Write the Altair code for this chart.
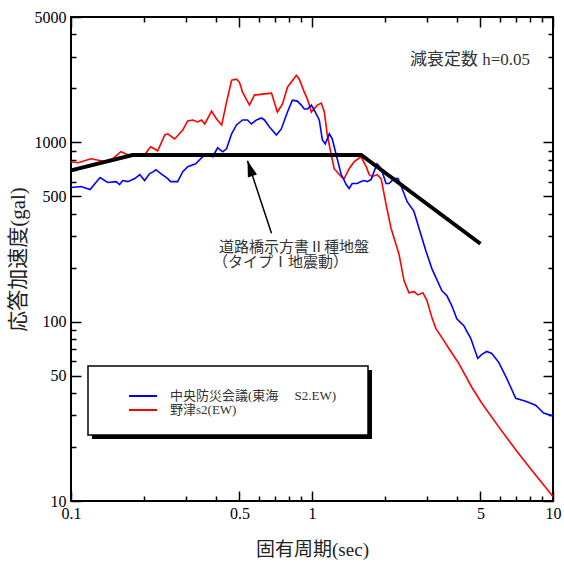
import altair as alt
import pandas as pd

# ---------------- data ----------------
red_period = [0.100, 0.107, 0.121, 0.133, 0.146, 0.161, 0.172, 0.184, 0.202, 0.214,
              0.229, 0.245, 0.252, 0.269, 0.291, 0.305, 0.320, 0.335, 0.348, 0.359,
              0.383, 0.402, 0.422, 0.442, 0.464, 0.486, 0.500, 0.515, 0.550, 0.577,
              0.623, 0.679, 0.718, 0.754, 0.791, 0.861, 0.886, 0.929, 0.957, 0.994,
              1.052, 1.093, 1.125, 1.157, 1.202, 1.236, 1.322, 1.360, 1.426, 1.496,
              1.599, 1.679, 1.726, 1.777, 1.862, 1.936, 2.029, 2.128, 2.296, 2.410,
              2.526, 2.649, 2.753, 2.886, 3.000, 3.147, 3.266, 3.461, 3.698, 4.064,
              4.603, 5.067, 5.956, 7.003, 8.147, 10.0]
red_acc = [780, 770, 810, 790, 790, 886, 853, 853, 853, 944,
           897, 1100, 1115, 1045, 1173, 1316, 1333, 1299, 1333, 1266,
           1495, 1350, 1250, 1677, 2220, 2249, 2163, 1905, 1613, 1834,
           1858, 1882, 1476, 1634, 2030, 2366, 2249, 1905, 1742, 1476,
           1613, 1656, 1476, 1100, 853, 713, 644, 628, 713, 780,
           831, 732, 661, 644, 661, 628, 451, 332, 238, 169,
           145, 147, 141, 145, 131, 105, 91.5, 81.5, 70.9, 58.5,
           43.1, 35.1, 25.9, 19.3, 14.9, 10.6]

blue_period = [0.100, 0.110, 0.120, 0.132, 0.142, 0.154, 0.159, 0.164, 0.172, 0.184,
               0.193, 0.202, 0.212, 0.220, 0.225, 0.236, 0.252, 0.259, 0.277, 0.291,
               0.305, 0.329, 0.352, 0.369, 0.387, 0.406, 0.426, 0.442, 0.464, 0.486,
               0.515, 0.540, 0.561, 0.588, 0.617, 0.635, 0.666, 0.712, 0.746, 0.791,
               0.829, 0.869, 0.903, 0.929, 0.957, 0.994, 1.022, 1.072, 1.104, 1.135,
               1.180, 1.213, 1.260, 1.322, 1.387, 1.426, 1.468, 1.539, 1.599, 1.644,
               1.694, 1.758, 1.862, 1.936, 2.029, 2.088, 2.190, 2.275, 2.365, 2.479,
               2.649, 2.780, 2.972, 3.147, 3.461, 3.630, 3.805, 3.990, 4.266, 4.560,
               4.873, 5.067, 5.309, 5.571, 5.956, 6.427, 7.003, 7.703, 8.472, 9.141,
               10.0]
blue_acc = [560, 567, 546, 636, 597, 604, 582, 612, 604, 628,
            661, 612, 669, 686, 704, 669, 628, 604, 604, 686,
            732, 760, 831, 853, 831, 932, 886, 920, 1115, 1250,
            1333, 1333, 1266, 1333, 1367, 1333, 1218, 1100, 1188, 1476,
            1720, 1698, 1613, 1533, 1533, 1613, 1514, 1333, 1032, 981,
            1115, 1045, 853, 661, 582, 553, 589, 589, 604, 612,
            604, 620, 760, 713, 589, 589, 628, 628, 553, 468,
            412, 332, 247, 197, 148.5, 139.4, 122.6, 103.9, 95.0, 80.5,
            62.4, 65.7, 68.2, 66.5, 59.3, 48.3, 37.4, 36.0, 34.2, 30.9,
            29.8]

design_period = [0.1, 0.18, 1.6, 5.0]
design_acc = [698, 850, 850, 272]

arrow_period = [0.679]
arrow_acc = [311]
arrow_tip_period = [0.54]
arrow_tip_acc = [790]

x_major = [0.1, 0.5, 1, 5, 10]
x_minor = [0.2, 0.3, 0.4, 0.6, 0.7, 0.8, 0.9, 2, 3, 4, 6, 7, 8, 9]
y_major = [10, 50, 100, 500, 1000, 5000]
y_minor = [20, 30, 40, 60, 70, 80, 90, 200, 300, 400, 600, 700, 800, 900,
           2000, 3000, 4000]

legend_labels = ["中央防災会議(東海　 S2.EW)", "野津s2(EW)"]
series_colors = ["#0000FF", "#FF0000"]
annotation_lines = ["道路橋示方書Ⅱ種地盤", "（タイプⅠ地震動）"]
damping_text = "減衰定数 h=0.05"
x_title = "固有周期(sec)"
y_title = "応答加速度(gal)"

# ---------------- chart ----------------
W, H = 482, 484
FONT = "Liberation Serif, Noto Sans CJK JP"
xs = alt.Scale(type="log", domain=[0.1, 10], nice=False)
ys = alt.Scale(type="log", domain=[10, 5000], nice=False)

red_df = pd.DataFrame({"T": red_period, "A": red_acc})
blue_df = pd.DataFrame({"T": blue_period, "A": blue_acc})
design_df = pd.DataFrame({"T": design_period, "A": design_acc})
arrow_df = pd.DataFrame({"T": arrow_period, "A": arrow_acc,
                         "T2": arrow_tip_period, "A2": arrow_tip_acc})
tip_df = pd.DataFrame({"T": arrow_tip_period, "A": arrow_tip_acc})
one = pd.DataFrame({"k": [0]})


def axis(orient, values, size, labels=False, **kw):
    return alt.Axis(orient=orient, values=values, tickSize=size, offset=-size,
                    domain=False, grid=False, labels=labels, tickColor="black",
                    tickWidth=1.5, **kw)


ax_bottom_major = axis("bottom", x_major, 10, labels=True, format="~g",
                       labelFont=FONT, labelFontSize=16, labelColor="black",
                       labelPadding=4, labelFlush=False, labelOverlap=False,
                       titleFont=FONT, titleFontSize=19, titleFontWeight="normal",
                       titleColor="#222222", titleX=W / 2, titleY=58,
                       titleBaseline="middle", titleAlign="center")
ax_left_major = axis("left", y_major, 10, labels=True, format="~g",
                     labelFont=FONT, labelFontSize=16, labelColor="black",
                     labelPadding=5, labelOverlap=False,
                     titleFont=FONT, titleFontSize=21, titleFontWeight="normal",
                     titleColor="#222222", titleX=-63, titleY=H / 2,
                     titleAngle=270, titleBaseline="middle", titleAlign="center")
ax_bottom_minor = axis("bottom", x_minor, 5)
ax_left_minor = axis("left", y_minor, 5)
ax_top_major = axis("top", x_major, 10)
ax_right_major = axis("right", y_major, 10)
ax_top_minor = axis("top", x_minor, 5)
ax_right_minor = axis("right", y_minor, 5)

red_line = alt.Chart(red_df).mark_line(color=series_colors[1], strokeWidth=1.6, clip=True).encode(
    x=alt.X("T:Q", scale=xs, axis=ax_bottom_major, title=x_title),
    y=alt.Y("A:Q", scale=ys, axis=ax_left_major, title=y_title),
)
blue_line = alt.Chart(blue_df).mark_line(color=series_colors[0], strokeWidth=1.6, clip=True).encode(
    x=alt.X("T:Q", scale=xs, axis=ax_bottom_minor, title=None),
    y=alt.Y("A:Q", scale=ys, axis=ax_left_minor, title=None),
)
design_line = alt.Chart(design_df).mark_line(color="black", strokeWidth=4).encode(
    x=alt.X("T:Q", scale=xs, axis=ax_top_major, title=None),
    y=alt.Y("A:Q", scale=ys, axis=ax_right_major, title=None),
)
arrow_line = alt.Chart(arrow_df).mark_rule(color="black", strokeWidth=1.5).encode(
    x=alt.X("T:Q", scale=xs, axis=ax_top_minor, title=None),
    y=alt.Y("A:Q", scale=ys, axis=ax_right_minor, title=None),
    x2="T2:Q",
    y2="A2:Q",
)
arrow_head = alt.Chart(tip_df).mark_point(
    shape="M0,0L0.6,2L-0.6,2Z", filled=True, size=256, angle=342,
    color="black", opacity=1, strokeWidth=0
).encode(
    x=alt.X("T:Q", scale=xs, axis=None),
    y=alt.Y("A:Q", scale=ys, axis=None),
)

# legend box with shadow (positions relative to plot origin)
shadow = alt.Chart(one).mark_rect(color="black").encode(
    x=alt.value(21), x2=alt.value(301), y=alt.value(353), y2=alt.value(422))
box = alt.Chart(one).mark_rect(fill="white", stroke="black", strokeWidth=1.5).encode(
    x=alt.value(17), x2=alt.value(297), y=alt.value(349), y2=alt.value(418))
leg_blue = alt.Chart(one).mark_rule(color=series_colors[0], strokeWidth=2).encode(
    x=alt.value(58), x2=alt.value(86), y=alt.value(379))
leg_red = alt.Chart(one).mark_rule(color=series_colors[1], strokeWidth=2).encode(
    x=alt.value(58), x2=alt.value(86), y=alt.value(393))
leg_t1 = alt.Chart(one).mark_text(text=legend_labels[0], align="left", baseline="middle",
                                  font=FONT, fontSize=13, color="#333333").encode(
    x=alt.value(99), y=alt.value(379))
leg_t2 = alt.Chart(one).mark_text(text=legend_labels[1], align="left", baseline="middle",
                                  font=FONT, fontSize=13, color="#333333").encode(
    x=alt.value(99), y=alt.value(393))

ann1 = alt.Chart(one).mark_text(text=annotation_lines[0], align="left", baseline="middle",
                                font=FONT, fontSize=15, color="#333333").encode(
    x=alt.value(148), y=alt.value(230))
ann2 = alt.Chart(one).mark_text(text=annotation_lines[1], align="left", baseline="middle",
                                font=FONT, fontSize=15, color="#333333").encode(
    x=alt.value(142), y=alt.value(245))
damp = alt.Chart(one).mark_text(text=damping_text, align="left", baseline="middle",
                                font=FONT, fontSize=17, color="#333333").encode(
    x=alt.value(339), y=alt.value(43))

chart = alt.layer(
    red_line, blue_line, design_line, arrow_line, arrow_head,
    shadow, box, leg_blue, leg_red, leg_t1, leg_t2, ann1, ann2, damp
).resolve_axis(x="independent", y="independent").properties(
    width=W, height=H,
    autosize=alt.AutoSizeParams(type="none"),
    padding={"left": 71, "top": 17, "right": 11, "bottom": 62},
    background="white",
).configure_view(stroke="black", strokeWidth=2)

chart.save("out.html", embed_options={"renderer": "svg", "actions": False})
